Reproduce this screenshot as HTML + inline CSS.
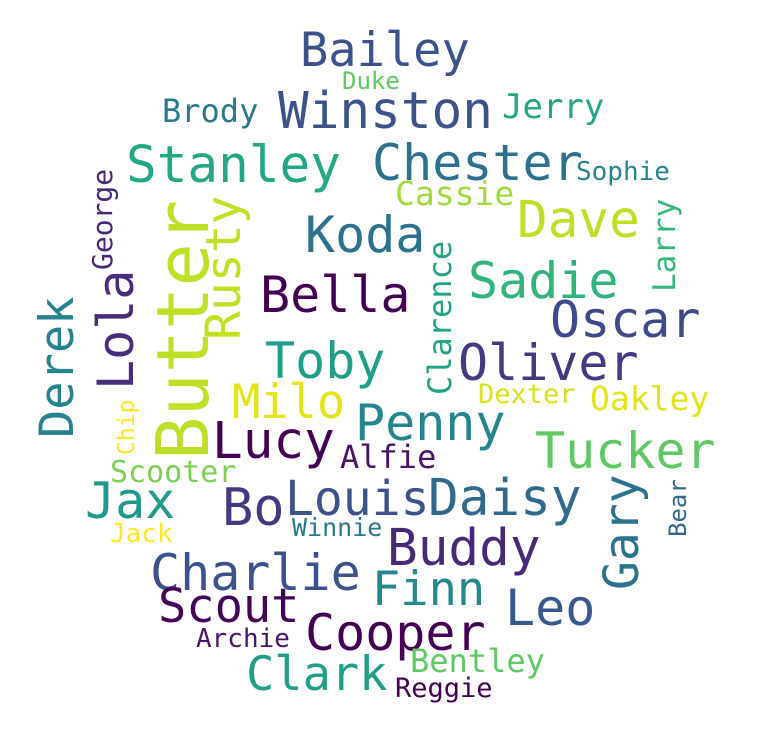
<!DOCTYPE html>
<html><head><meta charset="utf-8">
<style>
html,body{margin:0;padding:0;background:#fff;}
svg{display:block;}
text{font-family:"DejaVu Sans Mono","Liberation Mono",monospace;}
</style></head>
<body>
<svg id="cloud" width="772" height="752" viewBox="0 0 772 752" xmlns="http://www.w3.org/2000/svg">
<rect width="772" height="752" fill="#fff"/>
</svg>
<script>
const words = ["Bailey","Duke","Brody","Winston","Jerry","Stanley","Chester","Sophie","Cassie","George","Butter","Rusty","Koda","Dave","Larry","Clarence","Sadie","Lola","Derek","Bella","Oscar","Toby","Oliver","Milo","Dexter","Oakley","Chip","Penny","Lucy","Alfie","Tucker","Scooter","Jax","Bo","Louis","Daisy","Gary","Bear","Jack","Winnie","Buddy","Charlie","Finn","Leo","Scout","Cooper","Archie","Clark","Bentley","Reggie"];
const sizes = [47,24,32,51,34,51,50,26,33,28,72,48,50,51,31,32,50,50,47,50,50,50,50,47,27,33,23,50,51,32,50,30,50,52,48,51,48,24,26,25,51,50,47,50,47,50,26,47,32,27];
const colors = ["#3b528b","#5ec962","#2a788e","#3b528b","#21a585","#22a884","#2c728e","#25858e","#a0da39","#482878","#bddf26","#c2df23","#2c728e","#bddf26","#35b779","#20a386","#2fb47c","#472d7b","#26828e","#440154","#3e4a89","#1f9e89","#443983","#e5e419","#d8e219","#e2e418","#fde725","#25858e","#440154","#481467","#5ec962","#7ad151","#1f9a8a","#453781","#3b528b","#31688e","#2c728e","#31688e","#fde725","#2a788e","#482878","#3b528b","#23898e","#38598c","#450457","#440154","#481668","#1f9e89","#5ec962","#440154"];
// layout: [x, baseline y, rotated]
const layout = [[300,66,0],[342,89,0],[162,122,0],[278,128,0],[502,118,0],[126,182,0],[372,180,0],[576,180,0],[395,205,0],[112,270,1],[208,460,1],[240,340,1],[305,252,0],[517,237,0],[675,292,1],[451,395,1],[468,298,0],[133,390,1],[73,438,1],[260,312,0],[550,337,0],[265,378,0],[458,380,0],[232,418,0],[478,403,0],[590,410,0],[134,455,1],[355,440,0],[212,458,0],[340,468,0],[535,468,0],[110,482,0],[85,518,0],[222,525,0],[285,515,0],[428,515,0],[638,590,1],[686,537,1],[110,542,0],[292,536,0],[387,565,0],[150,590,0],[372,605,0],[505,625,0],[158,622,0],[305,650,0],[196,647,0],[246,690,0],[410,672,0],[395,697,0]];
const svg = document.getElementById('cloud');
words.forEach((w,i)=>{
  const t = document.createElementNS('http://www.w3.org/2000/svg','text');
  const [x,y,r] = layout[i];
  t.setAttribute('x', x);
  t.setAttribute('y', y);
  if (r) t.setAttribute('transform', `rotate(-90 ${x} ${y})`);
  t.setAttribute('font-size', sizes[i]);
  t.setAttribute('fill', colors[i]);
  t.textContent = w;
  
  
  svg.appendChild(t);
});
</script>
</body></html>
